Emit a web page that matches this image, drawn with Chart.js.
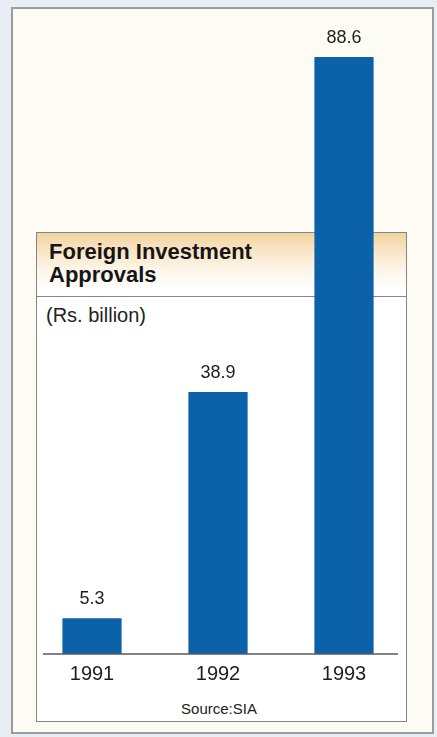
<!DOCTYPE html>
<html>
<head>
<meta charset="utf-8">
<title>Foreign Investment Approvals</title>
<script src="https://cdn.jsdelivr.net/npm/chart.js@4.4.1/dist/chart.umd.min.js"></script>
<style>
  html, body { margin: 0; padding: 0; }
  body { width: 437px; height: 737px; background: #e7eff5; position: relative; overflow: hidden;
         font-family: 'Liberation Sans', Arial, sans-serif; color: #1c1c1c; }
  .outer { position: absolute; left: 11px; top: 7px; width: 423px; height: 727px;
           border: 2px solid #9c9c9c; background: #fdfcf4; box-sizing: border-box; }
  .panel { position: absolute; left: 36px; top: 232px; width: 371px; height: 490px;
           border: 1.5px solid #858585; background: #fff; box-sizing: border-box; }
  .head { position: absolute; left: 36px; top: 232px; width: 371px; height: 65px;
          border: 1.5px solid #858585; box-sizing: border-box;
          background: linear-gradient(180deg, #f3d3a0 0%, #f9e6c8 30%, #fdf6ea 60%, #ffffff 90%); }
  .head h1 { margin: 0; position: absolute; left: 12px; top: 7px; font-size: 22px; line-height: 23px;
             font-weight: bold; color: #161616; }
  .unit { position: absolute; left: 46px; top: 304px; font-size: 20px; line-height: 22px; color: #222; }
  .source { position: absolute; left: 36px; width: 366px; top: 700px; text-align: center;
            font-size: 15px; line-height: 17px; color: #222; }
  canvas { position: absolute; left: 0; top: 0; pointer-events: none; }
</style>
</head>
<body>
<div class="outer"></div>
<div class="panel"></div>
<div class="head"><h1>Foreign Investment<br>Approvals</h1></div>
<div class="unit">(Rs. billion)</div>
<div class="source">Source:SIA</div>
<canvas id="chart" width="437" height="737"></canvas>

<script>
const years = ['1991', '1992', '1993'];
const approvals = [5.3, 38.9, 88.6];   // Rs. billion

const BAR_BLUE = '#0c62a9';

// value printed above each bar
const valueLabels = {
  id: 'valueLabels',
  afterDatasetsDraw(chart) {
    const { ctx } = chart;
    const meta = chart.getDatasetMeta(0);
    ctx.save();
    ctx.font = '18px "Liberation Sans", Arial, sans-serif';
    ctx.fillStyle = '#1e1e1e';
    ctx.textAlign = 'center';
    ctx.textBaseline = 'alphabetic';
    meta.data.forEach((bar, i) => {
      ctx.fillText(approvals[i].toFixed(1), bar.x, bar.y - 14);
    });
    ctx.restore();
  }
};

// short baseline under the bars
const baseline = {
  id: 'baseline',
  afterDatasetsDraw(chart) {
    const { ctx, chartArea } = chart;
    const y = chart.scales.y.getPixelForValue(0);
    ctx.save();
    ctx.strokeStyle = '#5a5a5a';
    ctx.lineWidth = 1.5;
    ctx.beginPath();
    ctx.moveTo(chartArea.left + 14, y);
    ctx.lineTo(chartArea.right - 9, y);
    ctx.stroke();
    ctx.restore();
  }
};

new Chart(document.getElementById('chart'), {
  type: 'bar',
  data: {
    labels: years,
    datasets: [{
      data: approvals,
      backgroundColor: BAR_BLUE,
      borderWidth: 0,
      barPercentage: 0.47,
      categoryPercentage: 1
    }]
  },
  options: {
    responsive: false,
    devicePixelRatio: 1,
    animation: false,
    layout: { padding: { left: 29, right: 30, top: 20, bottom: 43 } },
    plugins: { legend: { display: false }, tooltip: { enabled: false } },
    scales: {
      x: {
        grid: { display: false, drawTicks: false },
        border: { display: false },
        ticks: { color: '#1e1e1e', padding: 8, font: { size: 20, family: '"Liberation Sans", Arial, sans-serif' } }
      },
      y: { display: false, min: 0, max: 94.1 }
    }
  },
  plugins: [valueLabels, baseline]
});
</script>
</body>
</html>
